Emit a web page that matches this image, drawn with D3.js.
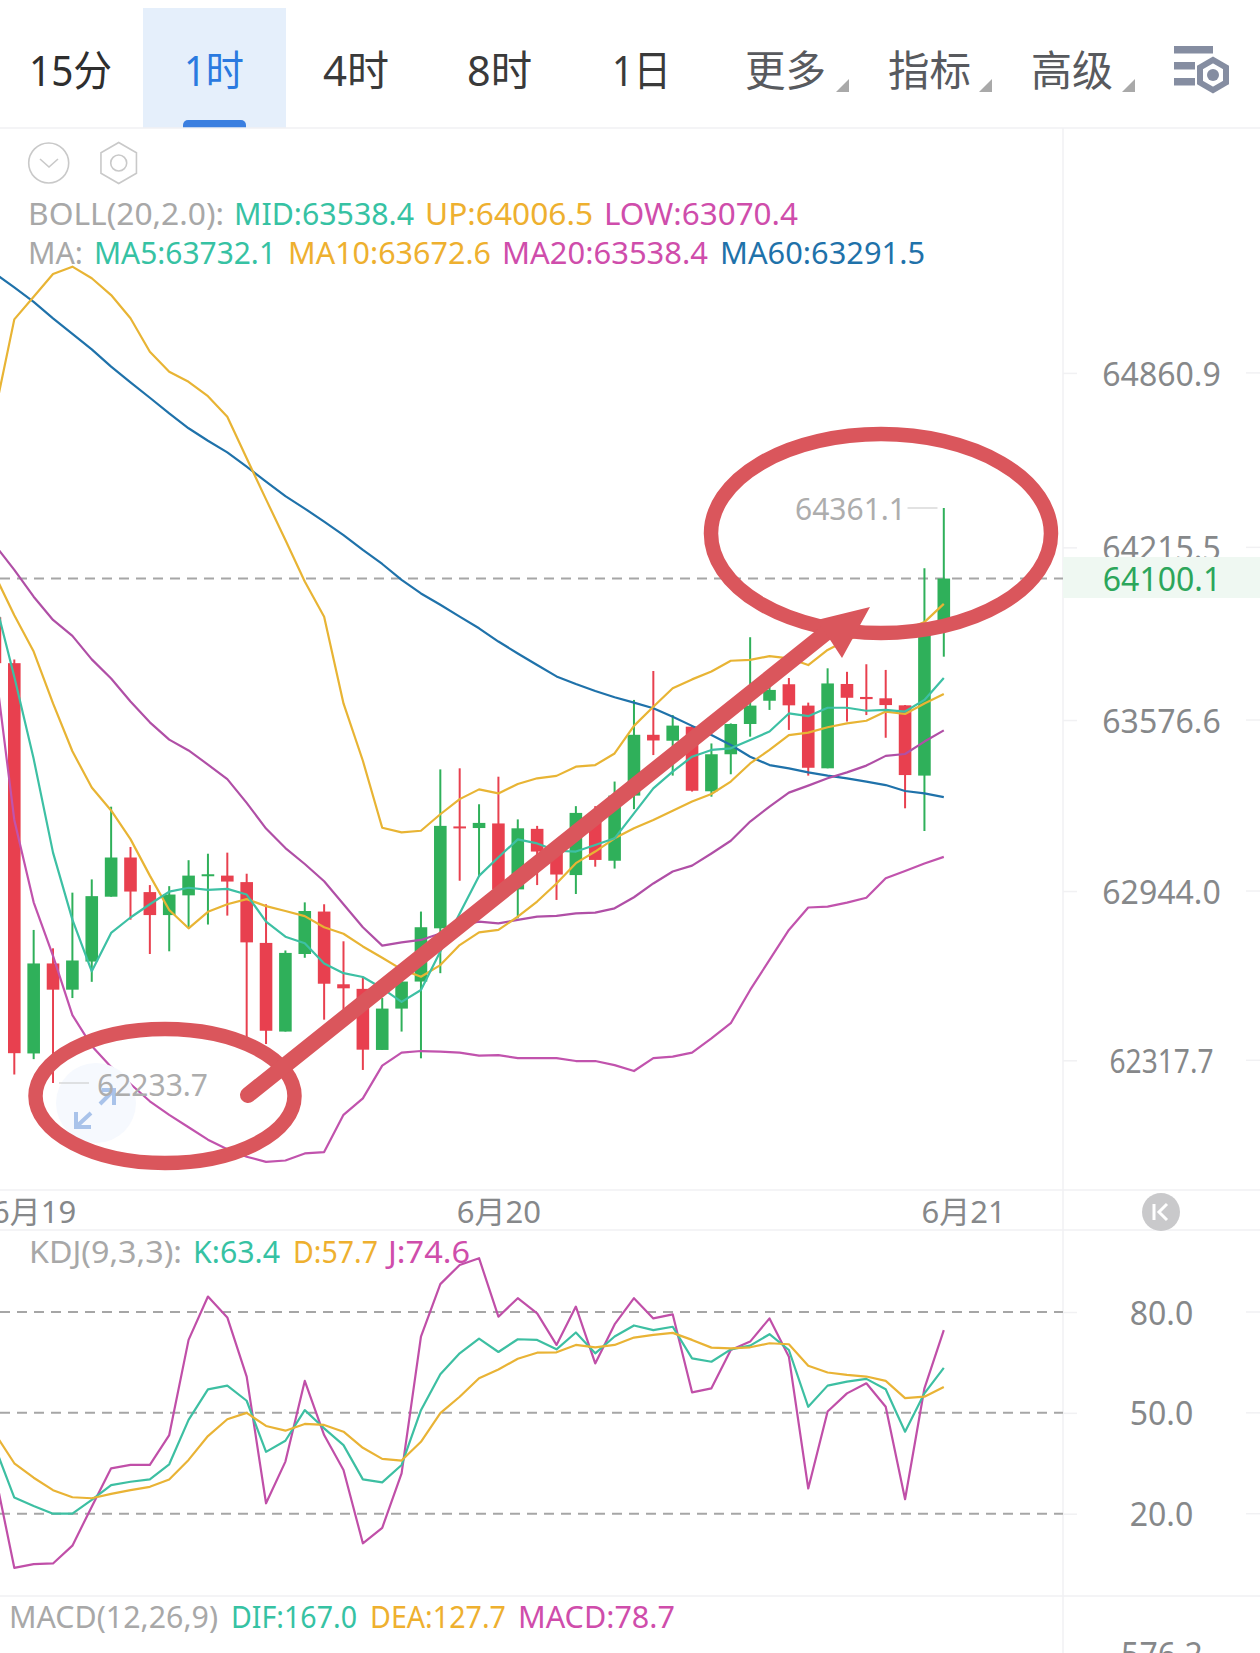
<!DOCTYPE html>
<html>
<head>
<meta charset="utf-8">
<style>
  html, body { margin: 0; padding: 0; background: #fff; }
  svg { display: block; font-family: "Noto Sans", "Noto Sans CJK SC", sans-serif; }
  .domain { display: none; }
</style>
</head>
<body>
<svg id="chart" width="1260" height="1653"></svg>
<script src="https://cdn.jsdelivr.net/npm/d3@7/dist/d3.min.js"></script>
<script>
// Hourly candles, first entry is the one cut off by the left edge (index -1).
const candleOpen = [63957,63787,62343,62676,62579,62683,62923,63068,62940,62855,62928,63000,63001,62977,62752,62424,62711,62868,62599,62582,62356,62509,62609,62806,63183,63177,63194,62950,63174,63110,63003,63231,63056,63297,63522,63500,63552,63313,63450,63562,63648,63709,63630,63398,63710,63662,63657,63631,63371,63922];
const candleClose = [63787,62344,62676,62579,62687,62925,63068,62942,62855,62931,63001,63006,62979,62754,62427,62715,62870,62601,62584,62357,62509,62609,62810,63185,63180,63196,62950,63176,63090,63005,63233,63059,63297,63522,63501,63556,63315,63450,63562,63630,63688,63631,63400,63712,63659,63654,63632,63373,63922,64100.1];
const candleHigh = [63957,63801,62800,62732,62938,62987,63256,63107,62966,62962,63058,63082,63086,63008,62895,62724,62902,62895,62758,62626,62548,62676,62868,63394,63398,63265,63367,63209,63185,63120,63258,63258,63349,63651,63758,63595,63555,63490,63564,63883,63700,63732,63641,63768,63755,63783,63762,63632,64138,64361.1];
const candleLow = [63787,62265,62322,62233.7,62548,62608,62923,62838,62711,62721,62810,62820,62853,62353,62378,62424,62697,62468,62506,62282,62356,62424,62325,62640,62982,62997,62950,62843,62966,62911,62933,63034,63027,63247,63447,63371,63312,63293,63376,63515,63614,63540,63371,63398,63571,63595,63511,63250,63166,63811];

// Overlay studies, same index range as the candles.
const ma5 = [64020,63737,63433,63086,62838,62647,62789,62846,62895,62942,62956,62948,62952,62931,62831,62775,62751,62676,62640,62626,62584,62534,62578,62720,62861,63000,63069,63135,63120,63093,63090,63114,63139,63231,63324,63386,63441,63466,63472,63503,63534,63601,63591,63622,63622,63611,63614,63608,63651,63732.1];
const ma10 = [64113,63964,63830,63638,63461,63327,63242,63136,63001,62874,62806,62867,62895,62914,62888,62870,62851,62810,62786,62739,62697,62654,62627,62670,62744,62791,62800,62849,62905,62972,63047,63090,63139,63176,63207,63241,63275,63303,63349,63416,63466,63521,63530,63550,63564,63574,63608,63599,63638,63672.6];
const ma20Mid = [64224,64132,64033,63947,63888,63801,63730,63645,63568,63504,63464,63412,63358,63270,63175,63103,63044,62980,62895,62810,62742,62754,62763,62787,62818,62831,62824,62837,62849,62852,62861,62864,62880,62921,62972,63016,63038,63083,63130,63201,63256,63308,63334,63361,63383,63408,63444,63451,63497,63538.4];
const ma60 = [65229,65177,65124,65063,65005,64948,64884,64826,64769,64711,64656,64610,64567,64514,64459,64405,64359,64311,64261,64206,64154,64095,64045,64003,63959,63916,63867,63823,63780,63738,63710,63684,63661,63641,63620,63589,63555,63521,63484,63441,63410,63398,63383,63371,63361,63349,63336,63314,63305,63291.5];
const bollUp = [64715,65059,65143,65227,65254,65211,65149,65063,64939,64865,64828,64775,64699,64545,64393,64243,64089,63959,63638,63426,63178,63161,63167,63228,63284,63320,63305,63340,63361,63370,63404,63410,63453,63555,63626,63694,63727,63756,63796,63799,63813,63805,63780,63836,63873,63899,63910,63910,63939,64006.5];
const bollLow = [63780,63207,62902,62704,62485,62371,62293,62230,62166,62116,62070,62024,61989,61961,61942,61947,61973,61978,62116,62177,62298,62346,62352,62350,62346,62335,62337,62326,62326,62326,62315,62315,62300,62278,62326,62331,62346,62399,62455,62578,62689,62800,62883,62886,62901,62919,62991,63018,63046,63070.4];

// KDJ oscillator, same index range.
const kdjK = [39.9,24.8,22.3,20.0,20.0,24.1,28.5,29.5,30.2,34.7,47.9,57.0,58.1,53.6,38.4,41.7,50.8,45.4,40.4,30.2,29.3,34.5,50.8,61.5,67.7,72.1,68.1,71.9,71.7,68.9,73.9,67.7,72.7,76.0,74.6,75.6,66.2,65.2,68.9,70.0,73.4,68.7,51.8,58.1,59.3,60.1,57.0,44.4,55.8,63.4];
const kdjD = [43.9,35.0,30.7,27.0,24.9,24.6,25.9,27.0,28.0,30.2,36.0,43.1,48.1,50.0,46.1,44.7,46.7,46.4,44.4,39.6,36.3,35.8,41.4,49.9,54.8,60.3,62.9,66.1,67.9,68.0,70.2,69.5,70.2,72.4,73.2,73.8,71.7,69.4,69.2,69.5,70.7,70.4,64.0,62.0,61.3,60.8,59.5,54.4,54.8,57.7];
const kdjJ = [32.0,3.9,5.0,5.2,10.5,22.1,33.5,34.5,34.5,43.4,71.7,84.6,78.4,60.8,23.1,35.5,59.5,43.4,33.0,11.2,15.8,32.0,72.7,88.3,94.0,96.0,78.6,84.1,79.6,70.2,81.6,64.7,76.3,84.1,78.1,79.3,56.1,57.3,68.7,71.2,78.1,66.7,27.5,50.4,55.8,58.8,51.8,24.3,57.3,74.6];

const firstIndex = -1;
const priceTicks = [64860.9, 64215.5, 63576.6, 62944.0, 62317.7];
const kdjTicks = [80, 50, 20];
const dateTicks = [1, 25, 49];
const dateLabels = ["6月19", "6月20", "6月21"];
const lastPrice = 64100.1;
const highPrice = 64361.1;
const lowPrice = 62233.7;
const tabs = ["15分", "1时", "4时", "8时", "1日", "更多", "指标", "高级"];

const GREEN = "#2fb05a", RED = "#e8404f", TEAL = "#36c2a3", AMBER = "#eeb02f",
      PINK = "#cf4dab", PLUM = "#b04fa6", BLUE = "#1f72aa", GREY = "#a8a8a8",
      RULE = "#f1f1f3", INK = "#86888a", MARKER = "#da565c";

const PANEL_RIGHT = 1063, WIDTH = 1260, FONT = 32;

const svg = d3.select("#chart");

// Shared scales: candle index across, price and oscillator value down.
const x = d3.scaleLinear().domain([0, 48]).range([14.3, 943.8]);
const y = d3.scaleLinear().domain([highPrice, lowPrice]).range([508, 1083]);
const yKdj = d3.scaleLinear().domain([80, 20]).range([1312, 1513.7]);

// Text pinned to a measured width so that the columns line up.
function label(parent, str, x0, x1, baseline, color, size) {
  return parent.append("text")
    .attr("x", x0).attr("y", baseline)
    .attr("textLength", x1 - x0).attr("lengthAdjust", "spacingAndGlyphs")
    .attr("font-size", size || 30).attr("fill", color).text(str);
}

/* ---------- toolbar ---------- */
const bar = svg.append("g");
bar.append("rect").attr("x", 143).attr("y", 8).attr("width", 143).attr("height", 120).attr("fill", "#e5effb");
bar.append("path").attr("d", "M183 128v-3a5 5 0 0 1 5-5h53a5 5 0 0 1 5 5v3z").attr("fill", "#3b7fe0");
const tabSpans = [[29,112],[184,244],[323,389],[467,532],[612,671],[745,826],[888,971],[1031,1113]];
const tabColors = ["#2e2e2e","#2a7ae0","#3a3a3a","#3a3a3a","#3a3a3a","#585a5e","#585a5e","#585a5e"];
tabs.forEach((t, i) => label(bar, t, tabSpans[i][0], tabSpans[i][1], 86, tabColors[i], 42));
[849, 992, 1135].forEach(r => bar.append("path")
  .attr("d", `M${r - 13} 92L${r} 79V92z`).attr("fill", "#a9a9a9"));
// Settings glyph at the far right of the toolbar.
[[1174,46,39],[1174,62,21],[1174,78,21]].forEach(b => bar.append("rect")
  .attr("x", b[0]).attr("y", b[1]).attr("width", b[2]).attr("height", 7.5).attr("fill", "#858da1"));
const hexagon = (cx, cy, r) => d3.range(6).map(k => {
  const a = Math.PI / 3 * k + Math.PI / 6;
  return [cx + r * Math.cos(a), cy + r * Math.sin(a)].join(",");
}).join(" ");
bar.append("polygon").attr("points", hexagon(1213, 75, 15)).attr("fill", "#fff").attr("stroke", "#858da1").attr("stroke-width", 6);
bar.append("circle").attr("cx", 1213).attr("cy", 75).attr("r", 6).attr("fill", "#858da1");

/* ---------- panel rules ---------- */
const rules = svg.append("g").attr("stroke", RULE).attr("stroke-width", 1.5);
[128, 1190, 1230, 1596].forEach(v => rules.append("line").attr("x1", 0).attr("x2", WIDTH).attr("y1", v).attr("y2", v));
rules.append("line").attr("x1", PANEL_RIGHT).attr("x2", PANEL_RIGHT).attr("y1", 128).attr("y2", 1653);

/* ---------- main panel header ---------- */
const head = svg.append("g");
head.append("circle").attr("cx", 48.7).attr("cy", 163).attr("r", 20).attr("fill", "none").attr("stroke", "#c9c9c9").attr("stroke-width", 1.6);
head.append("path").attr("d", "M40 159l9 8 9-8").attr("fill", "none").attr("stroke", "#c9c9c9").attr("stroke-width", 1.6);
head.append("polygon").attr("points", hexagon(118.7, 163, 20.5)).attr("fill", "none").attr("stroke", "#c9c9c9").attr("stroke-width", 1.6);
head.append("circle").attr("cx", 118.7).attr("cy", 163).attr("r", 8).attr("fill", "none").attr("stroke", "#c9c9c9").attr("stroke-width", 1.6);

const legends = [
  ["BOLL(20,2.0):", 28, 224, 225, GREY], ["MID:63538.4", 234, 414, 225, TEAL],
  ["UP:64006.5", 425, 593, 225, AMBER], ["LOW:63070.4", 604, 798, 225, PINK],
  ["MA:", 28, 83, 264, GREY], ["MA5:63732.1", 94, 276, 264, TEAL],
  ["MA10:63672.6", 288, 491, 264, AMBER], ["MA20:63538.4", 502, 708, 264, PINK],
  ["MA60:63291.5", 720, 925, 264, BLUE],
  ["KDJ(9,3,3):", 29, 182, 1263, GREY], ["K:63.4", 193, 280, 1263, TEAL],
  ["D:57.7", 293, 378, 1263, AMBER], ["J:74.6", 388, 470, 1263, PINK],
  ["MACD(12,26,9)", 9, 218, 1628, GREY], ["DIF:167.0", 231, 357, 1628, TEAL],
  ["DEA:127.7", 370, 506, 1628, AMBER], ["MACD:78.7", 518, 675, 1628, PINK]
];
legends.forEach(l => label(head, l[0], l[1], l[2], l[3], l[4]));

/* ---------- axes ---------- */
function styleAxis(g, labelX, dy) {
  g.attr("font-family", null).attr("font-size", null);
  g.selectAll(".tick line").attr("stroke", RULE).attr("stroke-width", 1.5);
  g.selectAll(".tick text")
    .attr("x", labelX - PANEL_RIGHT).attr("dy", dy).attr("text-anchor", "middle")
    .attr("font-size", FONT).attr("fill", INK);
}
const priceAxis = svg.append("g").attr("transform", `translate(${PANEL_RIGHT},0)`)
  .call(d3.axisRight(y).tickValues(priceTicks).tickFormat(d3.format(".1f")).tickSize(14));
styleAxis(priceAxis, 1161.5, 12.5);
// The narrow "1" glyphs of the lower labels leave them tighter than the others.
priceAxis.selectAll(".tick text").filter(d => d === 62317.7)
  .attr("textLength", 104).attr("lengthAdjust", "spacingAndGlyphs");
const kdjAxis = svg.append("g").attr("transform", `translate(${PANEL_RIGHT},0)`)
  .call(d3.axisRight(yKdj).tickValues(kdjTicks).tickFormat(d3.format(".1f")).tickSize(14));
styleAxis(kdjAxis, 1161.5, 12);
// Short marks on the outer edge echo the tick positions.
const outerMarks = svg.append("g").attr("stroke", RULE).attr("stroke-width", 1.5);
priceTicks.forEach(t => outerMarks.append("line").attr("x1", 1246).attr("x2", WIDTH).attr("y1", y(t)).attr("y2", y(t)));
kdjTicks.forEach(t => outerMarks.append("line").attr("x1", 1246).attr("x2", WIDTH).attr("y1", yKdj(t)).attr("y2", yKdj(t)));

const dateAxis = svg.append("g").attr("transform", "translate(0,1190)")
  .call(d3.axisBottom(x).tickValues(dateTicks).tickFormat((d, i) => dateLabels[i]).tickSize(0));
dateAxis.attr("font-family", null).attr("font-size", null);
dateAxis.selectAll(".tick text").attr("y", 0).attr("dy", 33).attr("font-size", 31).attr("fill", INK);

// MACD pane is cut by the bottom of the screen; only its top tick shows.
svg.append("text").attr("x", 1162).attr("y", 1666).attr("text-anchor", "middle").attr("font-size", FONT).attr("fill", INK).text("576.2");

// Jump-to-latest button beside the dates.
svg.append("circle").attr("cx", 1161).attr("cy", 1212).attr("r", 19).attr("fill", "#c9c9cb");
svg.append("path").attr("d", "M1154 1204v16M1167 1204l-8 8 8 8").attr("fill", "none").attr("stroke", "#fff").attr("stroke-width", 3);

/* ---------- reference lines ---------- */
const dash = g => g.attr("stroke", "#a6a6a6").attr("stroke-width", 2).attr("stroke-dasharray", "10 7");
svg.append("g").selectAll("line").data(kdjTicks).join("line")
  .attr("x1", 0).attr("x2", PANEL_RIGHT).attr("y1", d => yKdj(d)).attr("y2", d => yKdj(d)).call(dash);

/* ---------- last price tag ---------- */
const tag = svg.append("g");
tag.append("rect").attr("x", PANEL_RIGHT).attr("y", 557).attr("width", WIDTH - PANEL_RIGHT).attr("height", 41).attr("fill", "#eff8f2");
tag.append("text").attr("x", 1162).attr("y", y(lastPrice) + 12.5).attr("text-anchor", "middle").attr("font-size", FONT).attr("fill", "#2ca65b").text(d3.format(".1f")(lastPrice));
svg.append("line").attr("x1", 0).attr("x2", PANEL_RIGHT).attr("y1", y(lastPrice)).attr("y2", y(lastPrice)).call(dash);

/* ---------- candles ---------- */
const idx = d3.range(candleOpen.length);
const colorOf = i => candleClose[i] >= candleOpen[i] ? GREEN : RED;
const xAt = i => x(i + firstIndex);
const BODY = 12.6;
const candles = svg.append("g");
candles.selectAll("line").data(idx).join("line")
  .attr("x1", xAt).attr("x2", xAt)
  .attr("y1", i => y(candleHigh[i])).attr("y2", i => y(candleLow[i]))
  .attr("stroke", colorOf).attr("stroke-width", 2);
candles.selectAll("rect").data(idx).join("rect")
  .attr("x", i => xAt(i) - BODY / 2).attr("width", BODY)
  .attr("y", i => Math.min(y(candleOpen[i]), y(candleClose[i])))
  .attr("height", i => Math.max(2, Math.abs(y(candleOpen[i]) - y(candleClose[i]))))
  .attr("fill", colorOf);

/* ---------- study lines ---------- */
function drawLine(values, scale, color, width) {
  const path = d3.line().x((d, i) => xAt(i)).y(d => scale(d));
  svg.append("path").attr("d", path(values)).attr("fill", "none")
    .attr("stroke", color).attr("stroke-width", width || 2.2).attr("stroke-linejoin", "round");
}
drawLine(ma60, y, BLUE);
drawLine(bollUp, y, "#e8b434");
drawLine(bollLow, y, "#c153ad");
drawLine(ma20Mid, y, PLUM);
drawLine(ma10, y, "#e8b434");
drawLine(ma5, y, "#3dc0a4");
drawLine(kdjJ, yKdj, "#c04fa8");
drawLine(kdjK, yKdj, "#3dbfa2");
drawLine(kdjD, yKdj, "#e9b335");

/* ---------- high and low callouts ---------- */
const callouts = svg.append("g").attr("font-size", 30).attr("fill", "#adadad");
callouts.append("text").attr("x", 795).attr("y", y(highPrice) + 12).text(d3.format(".1f")(highPrice));
callouts.append("line").attr("x1", 907.5).attr("x2", 937.5).attr("y1", y(highPrice)).attr("y2", y(highPrice)).attr("stroke", "#cfcfcf").attr("stroke-width", 1.2);

// Expand button floats under the low callout.
svg.append("circle").attr("cx", 96).attr("cy", 1103).attr("r", 40).attr("fill", "#f6f9fe");
svg.append("path").attr("d", "M100 1104L113 1091M102 1090H114V1105M91 1113L77 1126M76 1112V1127H91")
  .attr("fill", "none").attr("stroke", "#a9c3ea").attr("stroke-width", 4);
callouts.raise();
callouts.append("text").attr("x", 97).attr("y", y(lowPrice) + 13).text(d3.format(".1f")(lowPrice));
callouts.append("line").attr("x1", 59).attr("x2", 89).attr("y1", y(lowPrice)).attr("y2", y(lowPrice)).attr("stroke", "#cfcfcf").attr("stroke-width", 1.2);

/* ---------- hand-drawn emphasis: rings around the low and high, arrow between them ---------- */
const marks = svg.append("g").attr("fill", "none").attr("stroke", MARKER).attr("stroke-width", 14.5);
marks.append("ellipse").attr("cx", 165).attr("cy", 1096).attr("rx", 129.5).attr("ry", 67);
marks.append("ellipse").attr("cx", 881).attr("cy", 533.5).attr("rx", 170).attr("ry", 99.5);
marks.append("line").attr("x1", 248).attr("y1", 1095).attr("x2", 832).attr("y2", 628)
  .attr("stroke-width", 16).attr("stroke-linecap", "round");
svg.append("polygon").attr("points", "870,607 817,620 842,658 859,627").attr("fill", MARKER);
</script>
</body>
</html>
